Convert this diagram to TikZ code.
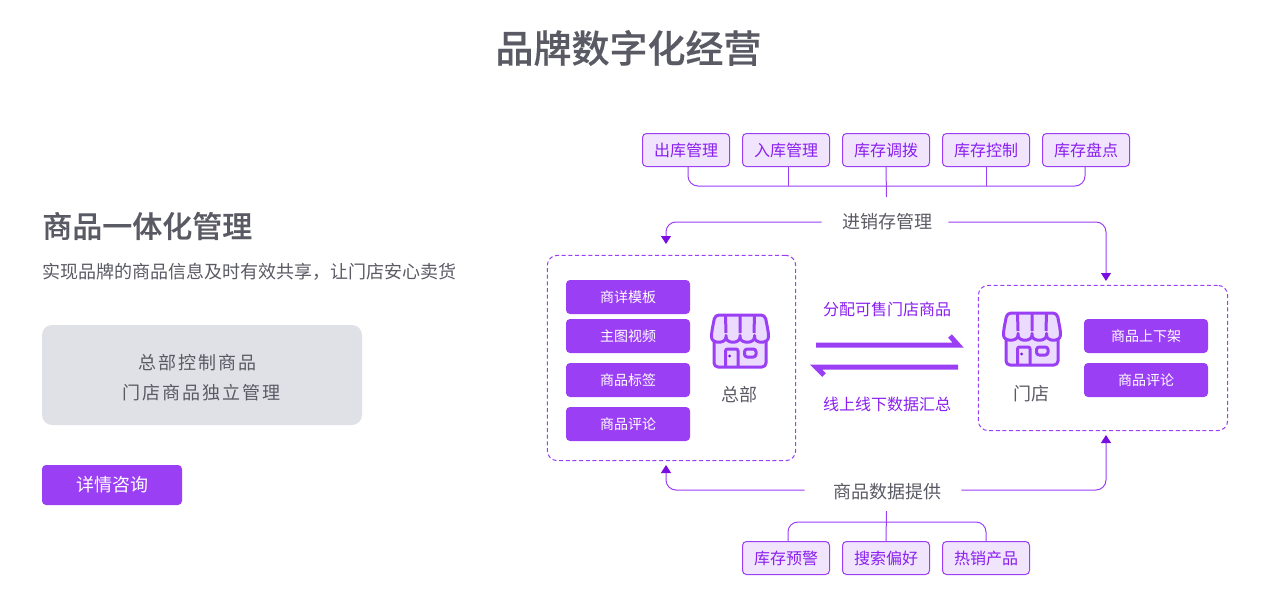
\documentclass[tikz,border=0pt]{standalone}
\usepackage{fontspec}
\setmainfont{Noto Sans CJK SC}
\newfontfamily\spaced[LetterSpace=11]{Noto Sans CJK SC}
\newfontfamily\mediumfont[FakeBold=.35]{Noto Sans CJK SC Medium}
\usetikzlibrary{arrows.meta}

\definecolor{brand}{HTML}{9B3FF5}
\definecolor{brandpale}{HTML}{F1E5FD}
\definecolor{brandlight}{HTML}{EADBFF}
\definecolor{brandtext}{HTML}{8A1FEF}
\definecolor{tipdark}{HTML}{7A0EE0}
\definecolor{inkgray}{HTML}{5A5A64}
\definecolor{panelgray}{HTML}{E0E1E6}

\tikzset{
  tagbox/.style={draw=brand,fill=brandpale,rounded corners=3pt,line width=.75pt,minimum width=65.25pt,minimum height=24.75pt,inner sep=0pt,text=brandtext,font=\fontsize{12pt}{12pt}\selectfont},
  itembox/.style={fill=brand,rounded corners=3pt,minimum width=93pt,minimum height=25.5pt,inner sep=0pt,text=white,font=\fontsize{10.5pt}{10.5pt}\selectfont},
  zonebox/.style={draw=brand,dashed,dash pattern=on 3pt off 2pt,rounded corners=7.5pt,line width=.75pt,inner sep=0pt},
  hublabel/.style={text=inkgray,inner sep=0pt,font=\fontsize{13.5pt}{13.5pt}\selectfont},
  flowlabel/.style={text=brandtext,inner sep=0pt,font=\fontsize{12pt}{12pt}\selectfont},
  bracket/.style={draw=brand,line width=.75pt,rounded corners=7.5pt},
  feedline/.style={bracket,-{Triangle[length=6pt,width=7.5pt,color=tipdark]}},
  swapline/.style={draw=brand,line width=3.75pt,miter limit=10},
  storefront/.pic={
    \begin{scope}[draw=brand,line width=2.25pt,line join=round]
      \filldraw[fill=brandlight,rounded corners=3pt] (3,18)--(3,54)--(55,54)--(55,18);
      \filldraw[fill=brandlight,rounded corners=3pt] (4,2)--(54,2)--(57.5,20)
        .. controls (57.5,31) and (43.5,31) .. (43.5,20)
        .. controls (43.5,31) and (29,31) .. (29,20)
        .. controls (29,31) and (15,31) .. (15,20)
        .. controls (15,31) and (.5,31) .. (.5,20) -- cycle;
      \draw (14.5,2)--(15,20) (29,2)--(29,20) (43.5,2)--(43,20);
      \draw[rounded corners=1.5pt] (14.5,54)--(14.5,36)--(27,36)--(27,54);
      \draw[rounded corners=2pt] (33.5,36)rectangle(45,44);
    \end{scope}
    \fill[tipdark] (18.5,43) circle (1.5);
  }
}

\begin{document}
\begin{tikzpicture}[x=.75pt,y=-.75pt]
\useasboundingbox (0,0) rectangle (1272,603);

% left column
\node[inner sep=0pt,text=inkgray,font=\fontsize{28.5pt}{28.5pt}\mediumfont] (title) at (628.5,48) {品牌数字化经营};
\node[inner sep=0pt,anchor=west,text=inkgray,font=\fontsize{22.5pt}{22.5pt}\mediumfont] (heading) at (42,226) {商品一体化管理};
\node[inner sep=0pt,anchor=west,text=inkgray,font=\fontsize{13.5pt}{13.5pt}\selectfont] (subhead) at (42,272) {实现品牌的商品信息及时有效共享，让门店安心卖货};
\fill[panelgray,rounded corners=7.5pt] (42,325) rectangle (362,425);
\node[inner sep=0pt,text=inkgray,font=\fontsize{13.5pt}{13.5pt}\selectfont\spaced] (panelone) at (197.5,362.5) {总部控制商品};
\node[inner sep=0pt,text=inkgray,font=\fontsize{13.5pt}{13.5pt}\selectfont\spaced] (paneltwo) at (201.5,392.5) {门店商品独立管理};
\node[fill=brand,rounded corners=3pt,minimum width=105pt,minimum height=30pt,inner sep=0pt,text=white,font=\fontsize{13.5pt}{13.5pt}\selectfont] (consult) at (112,485) {详情咨询};

% tag rows
\foreach \name/\xpos/\ypos/\tagtext in {tagout/686/150/出库管理,tagin/786/150/入库管理,tagmove/886/150/库存调拨,tagctrl/986/150/库存控制,tagcount/1086/150/库存盘点,tagwarn/786/558/库存预警,tagsearch/886/558/搜索偏好,taghot/986/558/热销产品}
  \node[tagbox] (\name) at (\xpos,\ypos) {\tagtext};

% the two zones
\node[zonebox,minimum width=186.25pt,minimum height=154pt] (hq) at (671.5,358) {};
\node[zonebox,minimum width=187pt,minimum height=109pt] (shop) at (1103,358) {};

\foreach \name/\xpos/\ypos/\itemtext in {hqa/628/297/商详模板,hqb/628/336/主图视频,hqc/628/380/商品标签,hqd/628/424/商品评论,shopa/1146/336/商品上下架,shopb/1146/380/商品评论}
  \node[itembox] (\name) at (\xpos,\ypos) {\itemtext};

\pic (hqicon) at (711,313) {storefront};
\pic (shopicon) at (1003,311) {storefront};
\node[hublabel] (hqname) at (739.5,395) {总部};
\node[hublabel] (shopname) at (1031,394) {门店};

% stock flow on top
\node[hublabel] (stock) at (887,222) {进销存管理};
\coordinate (stockjoin) at (886.5,186);
\coordinate (stockstub) at (886.5,197);
\coordinate (hqtop) at (666,244);
\coordinate (shoptop) at (1106,281);
\draw[bracket] ([xshift=1.5pt]tagout.south) |- (stockjoin) -| ([xshift=-.75pt]tagcount.south);
\draw[bracket] ([xshift=1.9pt]tagin.south) -- ++(0,19);
\draw[bracket] (tagmove.south) -- (stockstub);
\draw[bracket] (tagctrl.south) -- ++(0,19);
\draw[feedline] ([xshift=-15pt]stock.west) -| (hqtop);
\draw[feedline] ([xshift=12pt]stock.east) -| (shoptop);

% data flow below
\node[hublabel] (data) at (887,492) {商品数据提供};
\coordinate (datajoin) at (886.5,522);
\coordinate (datastub) at (886.5,511);
\coordinate (hqfoot) at (666,465);
\coordinate (shopfoot) at (1106,435);
\draw[bracket] (tagwarn.north) ++(1.5pt,0) |- (datajoin) -| (taghot.north);
\draw[bracket] (tagsearch.north) -- (datastub);
\draw[feedline] ([xshift=-21pt,yshift=1.5pt]data.west) -| (hqfoot);
\draw[feedline] ([xshift=15pt,yshift=1.5pt]data.east) -| (shopfoot);

% exchange between the zones
\node[flowlabel] (allot) at (887,309) {分配可售门店商品};
\node[flowlabel] (collect) at (887,404) {线上线下数据汇总};
\coordinate (allota) at (816,345);
\coordinate (allotb) at (958,345);
\coordinate (collecta) at (958,367);
\coordinate (collectb) at (816,367);
\draw[swapline] (allota) -- (allotb) -- ++(-8,-9);
\draw[swapline] (collecta) -- (collectb) -- ++(8,8);

\end{tikzpicture}
\end{document}
